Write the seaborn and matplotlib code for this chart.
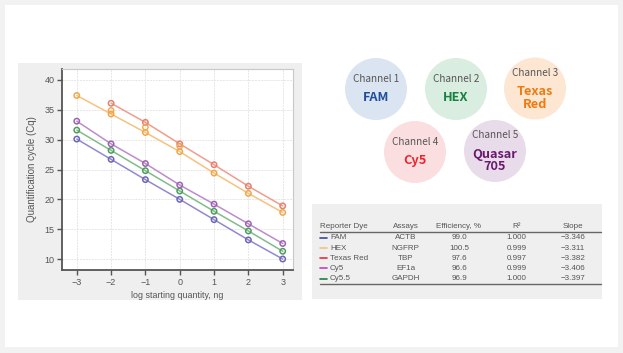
import numpy as np
import pandas as pd
import matplotlib
matplotlib.use("Agg")
import matplotlib.pyplot as plt
from matplotlib.patches import Rectangle, Circle
import seaborn as sns

# ---------------- data ----------------
log_qty = [-3, -2, -1, 0, 1, 2, 3]
cq_fam = [30.1, 26.7, 23.3, 20.0, 16.6, 13.2, 10.0]
cq_cy55 = [31.6, 28.2, 24.8, 21.4, 18.0, 14.7, 11.3]
cq_cy5 = [33.1, 29.3, 26.0, 22.4, 19.2, 15.9, 12.6]
cq_texas = [np.nan, 36.1, 32.9, 29.3, 25.8, 22.2, 18.9]
cq_hex = [37.4, 34.3, 31.2, 28.0, 24.4, 21.0, 17.8]
rep_x = [-2, -1, 0]
rep_texas = [34.9, 32.1, 28.9]

dyes = ["FAM", "HEX", "Texas Red", "Cy5", "Cy5.5"]
assays = ["ACTB", "NGFRP", "TBP", "EF1a", "GAPDH"]
efficiency = ["99.0", "100.5", "97.6", "96.6", "96.9"]
r2 = ["1.000", "0.999", "0.997", "0.999", "1.000"]
slope = ["\u22123.346", "\u22123.311", "\u22123.382", "\u22123.406", "\u22123.397"]

channels = ["Channel 1", "Channel 2", "Channel 3", "Channel 4", "Channel 5"]
channel_dyes = ["FAM", "HEX", "Texas\nRed", "Cy5", "Quasar\n705"]

x_ticks = [-3, -2, -1, 0, 1, 2, 3]
y_ticks = [10, 15, 20, 25, 30, 35, 40]

# ---------------- styling ----------------
sns.set_theme(style="white")
plt.rcParams["font.family"] = ["Liberation Sans", "DejaVu Sans"]

W, H = 623, 353
fig = plt.figure(figsize=(W / 100, H / 100), dpi=100)
fig.patch.set_facecolor("#f2f2f2")

# overlay in pixel coordinates
ov = fig.add_axes([0, 0, 1, 1])
ov.set_xlim(0, W)
ov.set_ylim(H, 0)
ov.axis("off")
ov.set_zorder(0)
ov.add_patch(Rectangle((5, 5), 613, 342, facecolor="white", edgecolor="none"))
ov.add_patch(Rectangle((18, 63), 284, 237, facecolor="#efefef", edgecolor="none"))
ov.add_patch(Rectangle((312, 204), 290, 95, facecolor="#efefef", edgecolor="none"))

# channel circles
circ_pos = [(376, 89), (456, 89), (535, 88.5), (415, 152), (495, 151)]
circ_fill = ["#dbe5f1", "#d9ede0", "#fde7d3", "#fbdfe0", "#e9dcea"]
dye_col = ["#1f4e9c", "#17813f", "#f07a10", "#e8262e", "#6a1a6e"]
for (cx, cy), fc, lab, dname, dc in zip(circ_pos, circ_fill, channels, channel_dyes, dye_col):
    ov.add_patch(Circle((cx, cy), 31, facecolor=fc, edgecolor="none"))
    nlines = dname.count("\n") + 1
    if nlines == 1:
        ty, dy = cy - 10, cy + 8.5
    else:
        ty, dy = cy - 15.5, cy + 9.5
    ov.text(cx, ty, lab, ha="center", va="center", fontsize=7.2, color="#555555",
            family=["Noto Sans CJK KR", "DejaVu Sans"])
    ov.text(cx, dy, dname, ha="center", va="center", fontsize=9.2, color=dc,
            fontweight="bold", linespacing=0.92,
            family=["Noto Sans CJK KR", "DejaVu Sans"])

# table
tcol = "#555555"
tfs = 5.8
hy = 227
ov.text(320, hy, "Reporter Dye", ha="left", va="center", fontsize=tfs, color=tcol)
ov.text(405.5, hy, "Assays", ha="center", va="center", fontsize=tfs, color=tcol)
ov.text(459, hy, "Efficiency, %", ha="center", va="center", fontsize=tfs, color=tcol)
ov.text(516.5, hy, "R\u00b2", ha="center", va="center", fontsize=tfs, color=tcol)
ov.text(573, hy, "Slope", ha="center", va="center", fontsize=tfs, color=tcol)
ov.plot([320, 601], [232, 232], color="#666666", lw=1.0)
ov.plot([320, 601], [284, 284], color="#666666", lw=1.0)
row_y = [237.5, 248, 258, 268.3, 278.7]
tab_cols = ["#3a48a0", "#f5c27e", "#e8303e", "#c040c0", "#1e8040"]
for ry, d, a, e, r, s, c in zip(row_y, dyes, assays, efficiency, r2, slope, tab_cols):
    ov.plot([320, 327], [ry, ry], color=c, lw=1.2)
    ov.text(330, ry, d, ha="left", va="center", fontsize=tfs, color=tcol)
    ov.text(405.5, ry, a, ha="center", va="center", fontsize=tfs, color=tcol)
    ov.text(459, ry, e, ha="center", va="center", fontsize=tfs, color=tcol)
    ov.text(516.5, ry, r, ha="center", va="center", fontsize=tfs, color=tcol)
    ov.text(573, ry, s, ha="center", va="center", fontsize=tfs, color=tcol)

# ---------------- main chart ----------------
ax = fig.add_axes([62 / W, 1 - 270 / H, (293 - 62) / W, (270 - 69) / H])
ax.set_zorder(2)
ax.set_facecolor("white")

series = {"FAM": cq_fam, "Cy5.5": cq_cy55, "Cy5": cq_cy5, "Texas Red": cq_texas, "HEX": cq_hex}
df = pd.concat([pd.DataFrame({"x": log_qty, "cq": v, "dye": k}) for k, v in series.items()])
df = df.dropna()
line_pal = {"FAM": "#8f8ad0", "Cy5.5": "#80bd8a", "Cy5": "#bb8ccc", "Texas Red": "#f09c8e", "HEX": "#f7c27e"}
mark_pal = {"FAM": "#6d66b8", "Cy5.5": "#4f9c5e", "Cy5": "#9d62b4", "Texas Red": "#e6806f", "HEX": "#f2a64a"}

sns.lineplot(data=df, x="x", y="cq", hue="dye", palette=line_pal, lw=1.1,
             legend=False, ax=ax, zorder=2)
for k in series:
    sub = df[df["dye"] == k]
    ax.scatter(sub["x"], sub["cq"], s=15, facecolors="none", edgecolors=mark_pal[k],
               linewidths=1.1, zorder=3)
ax.scatter(rep_x, rep_texas, s=15, facecolors="none", edgecolors=mark_pal["HEX"],
           linewidths=1.0, zorder=3)

ax.set_xlim(-3.43, 3.30)
ax.set_ylim(8.16, 41.84)
ax.set_xticks(x_ticks)
ax.set_xticklabels(["\u22123", "\u22122", "\u22121", "0", "1", "2", "3"])
ax.set_yticks(y_ticks)
ax.grid(True, color="#e6e6e6", lw=0.7, ls=(0, (2, 1)))
ax.set_axisbelow(True)
ax.tick_params(axis="both", which="both", direction="out", length=3.5, width=1,
               color="#555555", labelsize=6.5, labelcolor="#555555", pad=2,
               bottom=True, left=True)
for side in ["left", "bottom"]:
    ax.spines[side].set_color("#555555")
    ax.spines[side].set_linewidth(1.3)
for side in ["top", "right"]:
    ax.spines[side].set_color("#c8c8c8")
    ax.spines[side].set_linewidth(0.8)
ax.set_xlabel("log starting quantity, ng", fontsize=6.4, color="#555555", labelpad=3)
ax.set_ylabel("Quantification cycle (Cq)", fontsize=7.0, color="#555555", labelpad=5)

fig.savefig("out.png", dpi=100, facecolor=fig.get_facecolor())
